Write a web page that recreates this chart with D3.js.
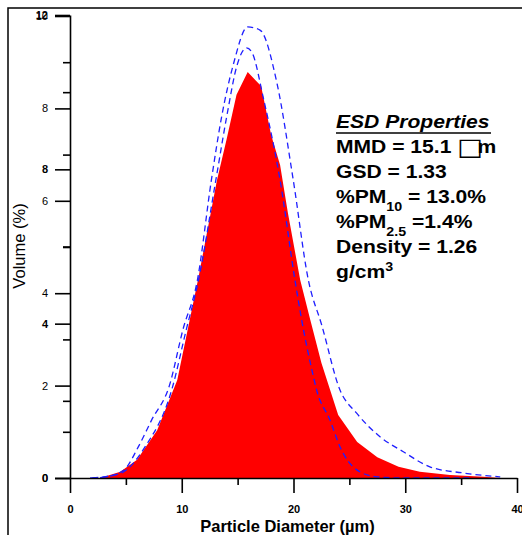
<!DOCTYPE html>
<html><head><meta charset="utf-8">
<script src="https://cdn.jsdelivr.net/npm/d3@7"></script>
<style>body{margin:0;background:#fff}svg{display:block}</style>
</head><body><svg id="c" width="522" height="535"></svg>
<script>
// ---- data ----
const redD = [2.7, 4.5, 6.0, 7.8, 9.6, 11.45, 13.15, 14.0, 14.9, 15.9, 17.1, 18.0, 18.8, 19.5, 20.6, 21.5, 22.5, 24.0, 25.7, 27.5, 29.4, 31.3, 34.0, 37.0, 38.5];
const redV = [0, 0.16, 0.47, 1.24, 2.54, 5.13, 7.72, 8.76, 9.93, 10.52, 10.16, 8.89, 8.11, 6.87, 5.13, 4.10, 2.98, 1.63, 0.93, 0.54, 0.29, 0.16, 0.08, 0.03, 0];
const outerD = [1.8, 3.0, 4.8, 6.1, 7.3, 8.9, 10.1, 11.4, 12.65, 13.6, 14.6, 15.9, 17.0, 18.5, 19.98, 21.33, 22.52, 24.16, 25.65, 27.74, 29.83, 32.2, 35.2, 38.5];
const outerV = [0, 0.02, 0.2, 0.8, 1.5, 2.4, 3.84, 5.13, 7.72, 9.41, 10.7, 11.69, 11.61, 10.26, 7.72, 5.13, 3.97, 2.28, 1.68, 1.07, 0.68, 0.29, 0.13, 0.03];
const innerD = [2.0, 4.5, 6.7, 9.1, 10.4, 11.5, 13.05, 14.05, 14.95, 15.8, 16.3, 17.3, 18.8, 20.13, 20.73, 21.78, 22.07, 23.27, 24.16, 25.66, 27.5, 30.0, 36.0];
const innerV = [0, 0.12, 0.8, 2.28, 3.84, 5.13, 7.72, 9.41, 10.7, 11.15, 11.02, 9.85, 7.72, 5.13, 4.10, 2.63, 2.28, 1.50, 0.81, 0.21, 0.03, 0, 0];

const xTicks = [0, 10, 20, 30, 40];
const xMinor = [5, 15, 25, 35];
const yBoldTicks = [0, 4, 8, 12];
const yBoldMinor = [2, 6, 10];
const yLightTicks = [0, 2, 4, 6, 8, 10];
const yLightMinor = [1, 3, 5, 7, 9];

const xTitle = "Particle Diameter (\u00b5m)";
const yTitle = "Volume (%)";

// ---- drawing ----
const svg = d3.select("#c");
const FONT = "'Liberation Sans', Arial, Helvetica, sans-serif";
svg.append("rect").attr("width", 522).attr("height", 535).attr("fill", "#fff");
svg.append("rect").attr("x", 8).attr("y", 8).attr("width", 700).attr("height", 700)
  .attr("fill", "none").attr("stroke", "#000").attr("stroke-width", 1.5);

const x = d3.scaleLinear().domain([0, 40]).range([70, 517]);
const yB = d3.scaleLinear().domain([0, 12]).range([478, 15]);
const yL = d3.scaleLinear().domain([0, 10]).range([478, 16]);

const zip = (a, b) => a.map((d, i) => [d, b[i]]);

svg.append("path").datum(zip(redD, redV))
  .attr("fill", "#ff0000")
  .attr("d", d3.area().x(d => x(d[0])).y0(yB(0)).y1(d => yB(d[1])));

const line = d3.line().x(d => x(d[0])).y(d => yB(d[1])).curve(d3.curveMonotoneX);
[zip(outerD, outerV), zip(innerD, innerV)].forEach(s => {
  svg.append("path").datum(s).attr("fill", "none").attr("stroke", "#1f1fff")
    .attr("stroke-width", 1.3).attr("stroke-dasharray", "6,4").attr("d", line);
});

function style(g, bold) {
  g.selectAll("path,line").attr("stroke", "#000").attr("stroke-width", 1.6);
  g.selectAll("text").attr("font-family", FONT).attr("font-size", 11)
    .attr("font-weight", bold ? "bold" : "normal").attr("fill", "#000");
  g.attr("font-family", null).attr("font-size", null);
}

// y axes (light + bold overlaid)
const gL = svg.append("g").attr("transform", "translate(70,0)")
  .call(d3.axisLeft(yL).tickValues(yLightTicks).tickSize(15).tickSizeOuter(0).tickPadding(7));
style(gL, false);
gL.select(".domain").remove();
const gLm = svg.append("g").attr("transform", "translate(70,0)")
  .call(d3.axisLeft(yL).tickValues(yLightMinor).tickSize(7).tickFormat(""));
style(gLm, false); gLm.select(".domain").remove();

const gB = svg.append("g").attr("transform", "translate(70,0)")
  .call(d3.axisLeft(yB).tickValues(yBoldTicks).tickSize(15).tickSizeOuter(0).tickPadding(7));
style(gB, true);
const gBm = svg.append("g").attr("transform", "translate(70,0)")
  .call(d3.axisLeft(yB).tickValues(yBoldMinor).tickSize(7).tickFormat(""));
style(gBm, true); gBm.select(".domain").remove();

// x axis
const gX = svg.append("g").attr("transform", "translate(0,478)")
  .call(d3.axisBottom(x).tickValues(xTicks).tickSize(15).tickSizeOuter(0).tickPadding(12));
style(gX, true);
const gXm = svg.append("g").attr("transform", "translate(0,478)")
  .call(d3.axisBottom(x).tickValues(xMinor).tickSize(7).tickFormat(""));
style(gXm, true); gXm.select(".domain").remove();

// titles
svg.append("text").attr("x", 287.5).attr("y", 532).attr("text-anchor", "middle")
  .attr("font-family", FONT).attr("font-weight", "bold").attr("font-size", 16.5)
  .text(xTitle);
svg.append("text").attr("transform", "translate(25,246) rotate(-90)").attr("text-anchor", "middle")
  .attr("font-family", FONT).attr("font-size", 16.5).text(yTitle);

// annotation box
const tb = svg.append("g").attr("transform", "translate(336,0) scale(1.14,1)")
  .attr("font-family", FONT).attr("font-weight", "bold").attr("font-size", 18.5).attr("fill", "#000");
const base = 128, lh = 25;
tb.append("text").attr("x", 0).attr("y", base).attr("font-style", "italic").text("ESD Properties");
tb.append("line").attr("x1", 0).attr("x2", 136).attr("y1", base + 5).attr("y2", base + 5)
  .attr("stroke", "#000").attr("stroke-width", 1.6);
const t1 = tb.append("text").attr("x", 0).attr("y", base + lh);
t1.append("tspan").text("MMD = 15.1 ");
t1.append("tspan").attr("font-family", "'DejaVu Sans'").attr("font-weight", "bold").attr("font-size", 24).attr("dy", 2).text("\u25A1");
t1.append("tspan").attr("dx", -5).attr("dy", -2).text("m");
tb.append("text").attr("x", 0).attr("y", base + 2 * lh).text("GSD = 1.33");
const t3 = tb.append("text").attr("x", 0).attr("y", base + 3 * lh);
t3.append("tspan").text("%PM");
t3.append("tspan").attr("font-size", 12.5).attr("dy", 8).text("10");
t3.append("tspan").attr("dy", -8).text(" = 13.0%");
const t4 = tb.append("text").attr("x", 0).attr("y", base + 4 * lh);
t4.append("tspan").text("%PM");
t4.append("tspan").attr("font-size", 12.5).attr("dy", 8).text("2.5");
t4.append("tspan").attr("dy", -8).text(" =1.4%");
tb.append("text").attr("x", 0).attr("y", base + 5 * lh).text("Density = 1.26");
const t6 = tb.append("text").attr("x", 0).attr("y", base + 6 * lh);
t6.append("tspan").text("g/cm");
t6.append("tspan").attr("font-size", 12.5).attr("dy", -7).text("3");
</script></body></html>
